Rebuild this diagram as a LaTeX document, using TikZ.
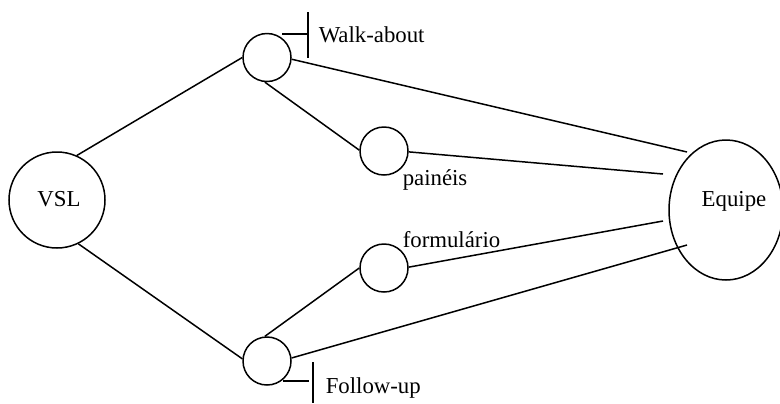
\documentclass[tikz,border=0pt]{standalone}
\usepackage{fontspec}
\setmainfont{Liberation Serif}
\usetikzlibrary{shapes.geometric}
\begin{document}
\begin{tikzpicture}[x=0.5pt,y=-0.5pt,
  line width=0.75pt,
  every node/.style={font=\fontsize{11.4}{13}\selectfont},
  bigc/.style={draw,circle,minimum size=48pt,inner sep=0pt},
  smallc/.style={draw,circle,minimum size=24pt,inner sep=0pt},
  oval/.style={draw,ellipse,minimum width=57pt,minimum height=70pt,inner sep=0pt},
  lbl/.style={anchor=base west,inner sep=0pt}]
\useasboundingbox (0,0) rectangle (780,403);

% main nodes
\node[bigc] (vsl) at (57,200) {};
\node[anchor=base,inner sep=0pt] (vsltxt) at (59,206) {VSL};
\node[smallc] (wa) at (267,57.5) {};
\node[smallc] (pa) at (384,151) {};
\node[smallc] (fo) at (384,268) {};
\node[smallc] (fu) at (267,361) {};
\node[oval] (eq) at (726,210) {};
\node[anchor=base,inner sep=0pt] (eqtxt) at (734,206) {Equipe};

% labels
\node[lbl] (walab) at (318,42) {Walk-about};
\node[lbl] (palab) at (402,185) {painéis};
\node[lbl] (folab) at (402,247) {formulário};
\node[lbl] (fulab) at (325,393) {Follow-up};

% free ends of the connectors that meet the team ellipse
\coordinate (e1) at (687,152);
\coordinate (e2) at (663,174);
\coordinate (e3) at (663,221);
\coordinate (e4) at (687,245);

% connectors
\draw (vsl.66) -- (wa.180);
\draw (vsl.-64) -- (fu.175);
\draw (wa.-95) -- (pa.178);
\draw (fu.95) -- (fo.180);
\draw (wa.-4) -- (e1);
\draw (pa.-2) -- (e2);
\draw (fo.2) -- (e3);
\draw (fu.7) -- (e4);

% marker ticks beside the labels
\coordinate (t1a) at (282,34);
\coordinate (t1b) at (308,34);
\coordinate (t1c) at (308,12);
\coordinate (t1d) at (308,58);
\draw (t1a) -- (t1b);
\draw (t1c) -- (t1d);
\coordinate (t2a) at (283,381);
\coordinate (t2b) at (309,381);
\coordinate (t2c) at (313,362);
\coordinate (t2d) at (313,403);
\draw (t2a) -- (t2b);
\draw (t2c) -- (t2d);
\end{tikzpicture}
\end{document}
